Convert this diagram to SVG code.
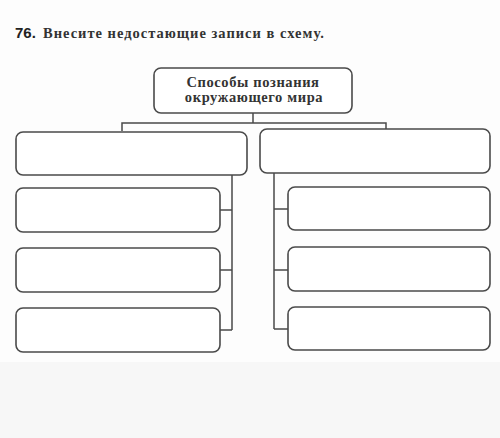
<svg xmlns="http://www.w3.org/2000/svg" width="500" height="438" viewBox="0 0 500 438">
<style>
.box{fill:#ffffff;stroke:#4a4a4a;stroke-width:1.6}
.ln{fill:none;stroke:#4a4a4a;stroke-width:1.5}
.t{font-family:"Liberation Serif","DejaVu Serif",serif;font-size:14.5px;font-weight:bold;letter-spacing:0.6px;fill:#333;text-anchor:middle}
</style>
<rect x="0" y="0" width="500" height="438" fill="#f7f7f7"/>
<rect x="0" y="0" width="500" height="362" fill="#fdfdfd"/>
<text x="15" y="38" font-family="Liberation Sans,Arial,sans-serif" font-weight="bold" font-size="15" fill="#222">76.</text>
<text x="43" y="38" font-family="Liberation Serif,serif" font-weight="bold" font-size="14.5" letter-spacing="1.2" fill="#333" textLength="282">Внесите недостающие записи в схему.</text>
<g id="connectors">
<path class="ln" d="M253 113V123M122 131V123H386V130"/>
<path class="ln" d="M232 175V330M220 210H232M220 270H232M220 330H232"/>
<path class="ln" d="M274 173V329M274 209H288M274 270H288M274 329H288"/>
</g>
<g id="root">
<rect class="box" x="154" y="68" width="198" height="45" rx="7"/>
<text class="t" x="253" y="87">Способы познания</text>
<text class="t" x="254" y="102">окружающего мира</text>
</g>
<g id="left"><rect class="box" x="16" y="132" width="231" height="43" rx="7"/></g>
<g id="right"><rect class="box" x="260" y="129" width="230" height="44" rx="7"/></g>
<g id="left1"><rect class="box" x="16" y="188" width="204" height="44" rx="7"/></g>
<g id="left2"><rect class="box" x="16" y="248" width="204" height="44" rx="7"/></g>
<g id="left3"><rect class="box" x="16" y="308" width="204" height="44" rx="7"/></g>
<g id="right1"><rect class="box" x="288" y="187" width="202" height="43" rx="7"/></g>
<g id="right2"><rect class="box" x="288" y="247" width="202" height="44" rx="7"/></g>
<g id="right3"><rect class="box" x="288" y="307" width="202" height="43" rx="7"/></g>
</svg>
